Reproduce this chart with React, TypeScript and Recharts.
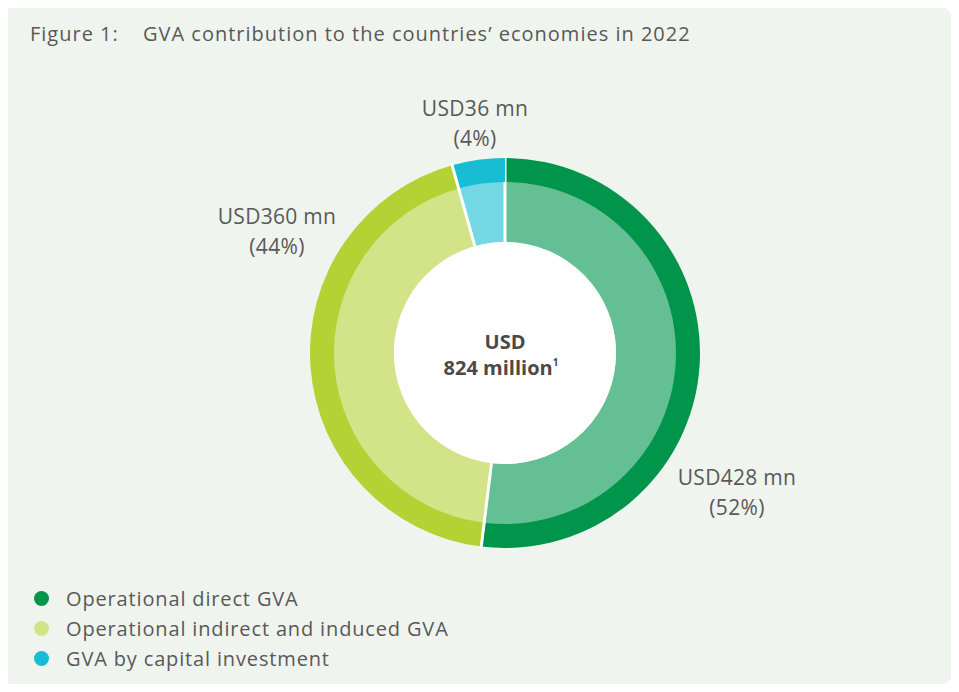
import { PieChart, Pie, Cell, Sector, Legend } from "recharts";

const CATEGORIES = [
  "Operational direct GVA",
  "Operational indirect and induced GVA",
  "GVA by capital investment",
];
const VALUES_MN = [428, 360, 36];
const TOTAL_LABEL = ["USD", "824 million"];

const OUTER_COLORS = ["#00954a", "#b4d234", "#17bdd2"];
const INNER_COLORS = ["#65bf94", "#d3e488", "#73d7e4"];
const LEGEND_COLORS = ["#00954a", "#d3e488", "#17bdd2"];

// label block centres, relative to the pie centre
const LABEL_OFFSETS = [
  [232, 140],
  [-228, -121],
  [-30, -229],
];

const HOLE_R = 111;

const data = CATEGORIES.map((name, i) => ({ name, value: VALUES_MN[i] }));

const FONT = "'Open Sans', sans-serif";
const TEXT = "#595959";

function SliceShape(props: any) {
  const { cx, cy, innerRadius, outerRadius, startAngle, endAngle, fill } = props;
  const a = (-startAngle * Math.PI) / 180;
  return (
    <g>
      <Sector
        cx={cx}
        cy={cy}
        innerRadius={innerRadius}
        outerRadius={outerRadius}
        startAngle={startAngle}
        endAngle={endAngle}
        fill={fill}
        stroke="none"
      />
      <line
        x1={cx + (HOLE_R - 1) * Math.cos(a)}
        y1={cy + (HOLE_R - 1) * Math.sin(a)}
        x2={cx + (outerRadius + 2) * Math.cos(a)}
        y2={cy + (outerRadius + 2) * Math.sin(a)}
        stroke="#fff"
        strokeWidth={3}
      />
    </g>
  );
}

function InnerShape(props: any) {
  return <Sector {...props} stroke="none" />;
}

function SliceLabel({ cx, cy, index, value, percent }: any) {
  const [dx, dy] = LABEL_OFFSETS[index];
  return (
    <g>
      {index === 0 && (
        <g>
          <circle cx={cx} cy={cy} r={HOLE_R} fill="#fff" />
          <text
            textAnchor="middle"
            fill="#4a4a4a"
            style={{ fontFamily: FONT, fontSize: 20, fontWeight: 700 }}
          >
            <tspan x={cx} y={cy - 4}>{TOTAL_LABEL[0]}</tspan>
            <tspan x={cx - 4} y={cy + 22}>{TOTAL_LABEL[1]}</tspan>
            <tspan dy={-9} style={{ fontSize: 10 }}>1</tspan>
          </text>
        </g>
      )}
      <text
        textAnchor="middle"
        fill={TEXT}
        style={{ fontFamily: FONT, fontSize: 21, letterSpacing: 0.3 }}
      >
        <tspan x={cx + dx} y={cy + dy - 8}>{`USD${value} mn`}</tspan>
        <tspan x={cx + dx} y={cy + dy + 22}>{`(${Math.round(percent * 100)}%)`}</tspan>
      </text>
    </g>
  );
}

function LegendContent() {
  return (
    <div style={{ fontFamily: FONT, fontSize: 20, color: TEXT }}>
      {CATEGORIES.map((c, i) => (
        <div key={c} style={{ display: "flex", alignItems: "center", height: 30 }}>
          <span
            style={{
              width: 15,
              height: 15,
              borderRadius: "50%",
              background: LEGEND_COLORS[i],
              marginRight: 17,
            }}
          />
          <span style={{ letterSpacing: 0.85 }}>{c}</span>
        </div>
      ))}
    </div>
  );
}

export default function App() {
  return (
    <div style={{ margin: -8, width: 959, height: 692, position: "relative", background: "#fff", overflow: "hidden" }}>
      <div
        style={{
          position: "absolute",
          left: 8,
          top: 2,
          width: 949,
          height: 688,
          background: "#eff4ee",
          borderTopRightRadius: 30,
          borderBottomRightRadius: 30,
        }}
      />
      <div
        style={{
          position: "absolute",
          left: 30,
          top: 20,
          fontFamily: FONT,
          fontSize: 20,
          letterSpacing: 1,
          color: TEXT,
          whiteSpace: "pre",
        }}
      >
        <span>Figure 1:</span>
        <span style={{ position: "absolute", left: 113 }}>GVA contribution to the countries’ economies in 2022</span>
      </div>
      <div style={{ position: "absolute", left: 0, top: 0 }}>
        <PieChart width={959} height={692}>
          <Pie
            data={data}
            dataKey="value"
            nameKey="name"
            cx={500}
            cy={348}
            startAngle={90}
            endAngle={-270}
            innerRadius={HOLE_R}
            outerRadius={172}
            stroke="none"
            legendType="none"
            shape={InnerShape}
            inactiveShape={InnerShape}
            activeShape={InnerShape}
            isAnimationActive={false}
          >
            {data.map((d, i) => (
              <Cell key={d.name} fill={INNER_COLORS[i]} />
            ))}
          </Pie>
          <Pie
            data={data}
            dataKey="value"
            nameKey="name"
            cx={500}
            cy={348}
            startAngle={90}
            endAngle={-270}
            innerRadius={171}
            outerRadius={195}
            stroke="none"
            shape={SliceShape}
            inactiveShape={SliceShape}
            activeShape={SliceShape}
            label={SliceLabel}
            labelLine={false}
            isAnimationActive={false}
          >
            {data.map((d, i) => (
              <Cell key={d.name} fill={OUTER_COLORS[i]} />
            ))}
          </Pie>
          <Legend
            layout="vertical"
            content={<LegendContent />}
            wrapperStyle={{ position: "absolute", left: 34, top: 583, width: 500, bottom: "auto" }}
          />
        </PieChart>
      </div>
    </div>
  );
}
